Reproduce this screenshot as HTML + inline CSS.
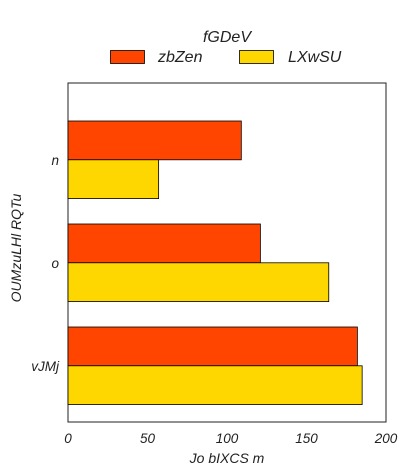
<!DOCTYPE html>
<html><head><meta charset="utf-8"><style>
body{margin:0;background:#fff;}
svg{display:block;font-family:"Liberation Sans",sans-serif;font-style:italic;}
</style></head><body>
<svg id="c" width="408" height="476">
<text x="227" y="42" font-size="16" text-anchor="middle" fill="#222">fGDeV</text>
<g><rect x="110.5" y="50.5" width="34" height="13" fill="#FF4500" stroke="#000" stroke-width="0.8"/><text x="158" y="62" font-size="16" fill="#222">zbZen</text></g>
<g><rect x="239.5" y="50.5" width="34" height="13" fill="#FFD700" stroke="#000" stroke-width="0.8"/><text x="288" y="62" font-size="16" fill="#222">LXwSU</text></g>
<rect x="68" y="83" width="318" height="339" fill="none" stroke="#222" stroke-width="1"/>
<g id="bars"></g><g id="ticks"></g>
<text x="227" y="463" font-size="14" text-anchor="middle" fill="#222">Jo bIXCS  m</text>
<text transform="translate(21,248) rotate(-90)" font-size="14" text-anchor="middle" fill="#222">OUMzuLHl RQTu</text>
</svg>
<script>
const categories=["n","o","vJMj"];
const zbZen=[109,121,182];
const LXwSU=[57,164,185];
const xTicks=[0,50,100,150,200];
const ns="http://www.w3.org/2000/svg";
const x=v=>68+v*318/200;
const bandTop=i=>121+i*103;
const bh=38.8;
const bars=document.getElementById('bars'),ticks=document.getElementById('ticks');
function mk(t,a,p){const e=document.createElementNS(ns,t);for(const k in a)e.setAttribute(k,a[k]);p.appendChild(e);return e;}
categories.forEach((c,i)=>{
 const r1=mk('rect',{x:x(0),y:bandTop(i),width:x(zbZen[i])-x(0),height:bh,fill:'#FF4500',stroke:'#000','stroke-width':0.8},bars);
 
 
 const r2=mk('rect',{x:x(0),y:bandTop(i)+bh,width:x(LXwSU[i])-x(0),height:bh,fill:'#FFD700',stroke:'#000','stroke-width':0.8},bars);
 
 
 const t=mk('text',{x:59,y:bandTop(i)+bh+5,'font-size':13.5,'text-anchor':'end',fill:'#222'},ticks);
 t.textContent=c;
 
 
});
xTicks.forEach(v=>{
 const t=mk('text',{x:x(v),y:443,'font-size':13.5,'text-anchor':'middle',fill:'#222'},ticks);
 t.textContent=v;
 
 
});
</script>
</body></html>
